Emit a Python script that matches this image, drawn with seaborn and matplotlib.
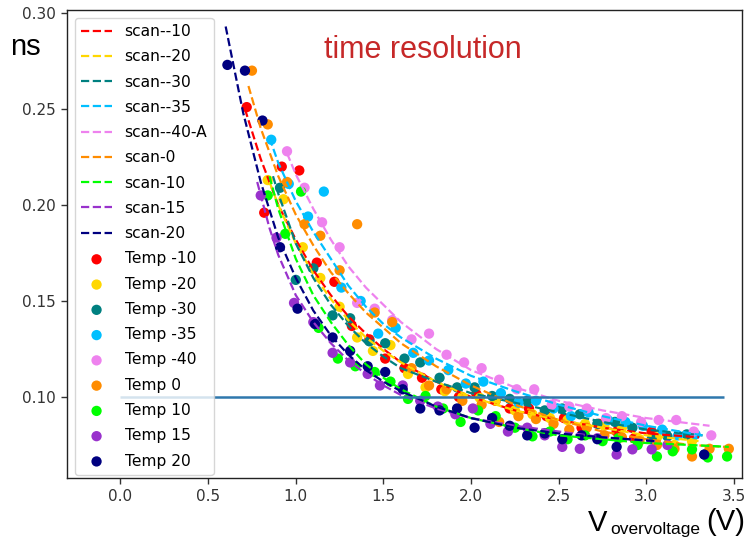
import matplotlib
matplotlib.use("Agg")
import matplotlib.pyplot as plt
import seaborn as sns

# ---------------- data ----------------
scan_names = ["scan--10", "scan--20", "scan--30", "scan--35", "scan--40-A",
              "scan-0", "scan-10", "scan-15", "scan-20"]
temp_names = ["Temp -10", "Temp -20", "Temp -30", "Temp -35", "Temp -40",
              "Temp 0", "Temp 10", "Temp 15", "Temp 20"]
colors = ["red", "gold", "teal", "deepskyblue", "violet",
          "darkorange", "lime", "darkorchid", "navy"]

# fitted curves (dashed)
fit_v_m10 = [0.71, 0.80, 0.90, 1.00, 1.10, 1.20, 1.30, 1.40, 1.50, 1.60, 1.80, 2.00, 2.25, 2.50, 2.75, 3.00, 3.30]
fit_t_m10 = [0.250, 0.224, 0.200, 0.182, 0.166, 0.153, 0.142, 0.133, 0.125, 0.118, 0.108, 0.100, 0.093, 0.088, 0.084, 0.081, 0.079]
fit_v_m20 = [0.85, 0.90, 1.00, 1.10, 1.20, 1.30, 1.40, 1.50, 1.60, 1.80, 2.00, 2.25, 2.50, 2.75, 3.00, 3.30]
fit_t_m20 = [0.212, 0.200, 0.180, 0.164, 0.151, 0.140, 0.131, 0.124, 0.118, 0.108, 0.100, 0.093, 0.088, 0.084, 0.080, 0.077]
fit_v_m30 = [0.87, 0.90, 1.00, 1.10, 1.20, 1.30, 1.40, 1.50, 1.60, 1.80, 2.00, 2.25, 2.50, 2.75, 3.00, 3.32]
fit_t_m30 = [0.215, 0.206, 0.180, 0.162, 0.148, 0.137, 0.128, 0.121, 0.115, 0.108, 0.102, 0.097, 0.092, 0.087, 0.083, 0.080]
fit_v_m35 = [0.85, 0.90, 1.00, 1.10, 1.20, 1.30, 1.40, 1.50, 1.60, 1.80, 2.00, 2.25, 2.50, 2.75, 3.00, 3.32]
fit_t_m35 = [0.235, 0.222, 0.202, 0.186, 0.172, 0.158, 0.147, 0.138, 0.131, 0.120, 0.111, 0.103, 0.096, 0.090, 0.085, 0.080]
fit_v_m40 = [0.95, 1.00, 1.10, 1.20, 1.30, 1.40, 1.50, 1.60, 1.80, 2.00, 2.25, 2.50, 2.75, 3.00, 3.36]
fit_t_m40 = [0.227, 0.216, 0.198, 0.182, 0.168, 0.157, 0.148, 0.139, 0.125, 0.114, 0.105, 0.098, 0.093, 0.089, 0.085]
fit_v_0 = [0.73, 0.80, 0.90, 1.00, 1.10, 1.20, 1.30, 1.40, 1.50, 1.60, 1.80, 2.00, 2.25, 2.50, 2.75, 3.00, 3.25, 3.45]
fit_t_0 = [0.262, 0.240, 0.215, 0.195, 0.179, 0.165, 0.154, 0.144, 0.136, 0.128, 0.116, 0.106, 0.096, 0.088, 0.082, 0.078, 0.075, 0.074]
fit_v_10 = [0.85, 0.90, 1.00, 1.10, 1.20, 1.30, 1.40, 1.50, 1.60, 1.80, 2.00, 2.25, 2.50, 2.75, 3.00, 3.25, 3.47]
fit_t_10 = [0.215, 0.198, 0.172, 0.153, 0.139, 0.127, 0.117, 0.110, 0.104, 0.095, 0.089, 0.084, 0.080, 0.078, 0.076, 0.075, 0.074]
fit_v_15 = [0.78, 0.85, 0.90, 1.00, 1.10, 1.20, 1.30, 1.40, 1.50, 1.60, 1.80, 2.00, 2.25, 2.50, 2.75, 3.05]
fit_t_15 = [0.212, 0.188, 0.174, 0.153, 0.139, 0.128, 0.119, 0.112, 0.106, 0.101, 0.094, 0.089, 0.085, 0.082, 0.079, 0.077]
fit_v_20 = [0.60, 0.70, 0.80, 0.90, 1.00, 1.10, 1.20, 1.30, 1.40, 1.50, 1.60, 1.80, 2.00, 2.25, 2.50, 2.75, 3.05]
fit_t_20 = [0.293, 0.248, 0.212, 0.183, 0.162, 0.145, 0.132, 0.122, 0.114, 0.108, 0.103, 0.095, 0.089, 0.084, 0.081, 0.079, 0.077]

# measured points
v_m10 = [0.72, 0.82, 0.92, 1.02, 1.12, 1.22, 1.32, 1.42, 1.51, 1.62, 1.72, 1.83, 1.93, 2.03, 2.14, 2.22, 2.33, 2.43, 2.53, 2.63, 2.73, 2.83, 2.93, 3.03]
t_m10 = [0.251, 0.196, 0.220, 0.218, 0.170, 0.160, 0.137, 0.130, 0.120, 0.115, 0.110, 0.104, 0.100, 0.1016, 0.098, 0.094, 0.094, 0.090, 0.089, 0.084, 0.086, 0.082, 0.0785, 0.082]
v_m20 = [0.84, 0.93, 1.04, 1.14, 1.25, 1.35, 1.44, 1.54, 1.64, 1.74, 1.85, 1.95, 2.05, 2.14, 2.25, 2.35, 2.45, 2.55, 2.65, 2.76, 2.86, 2.96, 3.06, 3.16, 3.26]
t_m20 = [0.213, 0.203, 0.178, 0.162, 0.147, 0.131, 0.124, 0.127, 0.112, 0.105, 0.103, 0.100, 0.0995, 0.098, 0.093, 0.091, 0.089, 0.088, 0.086, 0.085, 0.084, 0.078, 0.079, 0.075, 0.077]
v_m30 = [0.91, 1.00, 1.10, 1.21, 1.31, 1.42, 1.51, 1.62, 1.71, 1.82, 1.92, 2.02, 2.12, 2.22, 2.32, 2.42, 2.52, 2.62, 2.72, 2.82, 2.92, 3.03, 3.12, 3.23, 3.33]
t_m30 = [0.209, 0.161, 0.167, 0.1425, 0.141, 0.129, 0.128, 0.120, 0.118, 0.110, 0.105, 0.105, 0.1005, 0.099, 0.098, 0.093, 0.094, 0.091, 0.086, 0.087, 0.084, 0.078, 0.0795, 0.0805, 0.070]
v_m35 = [0.86, 0.96, 1.07, 1.16, 1.26, 1.37, 1.47, 1.57, 1.67, 1.76, 1.87, 1.97, 2.07, 2.17, 2.27, 2.37, 2.47, 2.57, 2.67, 2.78, 2.88, 2.98, 3.09, 3.18, 3.28]
t_m35 = [0.234, 0.211, 0.194, 0.207, 0.157, 0.150, 0.133, 0.136, 0.123, 0.119, 0.114, 0.107, 0.108, 0.102, 0.097, 0.098, 0.094, 0.090, 0.092, 0.088, 0.087, 0.085, 0.083, 0.080, 0.0805]
v_m40 = [0.95, 1.05, 1.15, 1.25, 1.35, 1.45, 1.55, 1.66, 1.76, 1.86, 1.96, 2.06, 2.16, 2.26, 2.36, 2.46, 2.56, 2.66, 2.77, 2.86, 2.97, 3.07, 3.17, 3.27, 3.37]
t_m40 = [0.228, 0.209, 0.191, 0.178, 0.149, 0.146, 0.140, 0.130, 0.133, 0.122, 0.118, 0.115, 0.109, 0.104, 0.104, 0.096, 0.095, 0.094, 0.089, 0.090, 0.087, 0.088, 0.088, 0.082, 0.080]
v_0 = [0.75, 0.84, 0.95, 1.05, 1.14, 1.25, 1.35, 1.45, 1.55, 1.66, 1.76, 1.86, 1.95, 2.06, 2.16, 2.27, 2.37, 2.47, 2.56, 2.66, 2.76, 2.86, 2.96, 3.06, 3.16, 3.26, 3.36, 3.47]
t_0 = [0.270, 0.242, 0.212, 0.190, 0.184, 0.166, 0.190, 0.144, 0.139, 0.115, 0.106, 0.104, 0.098, 0.096, 0.087, 0.090, 0.0885, 0.086, 0.083, 0.084, 0.080, 0.079, 0.077, 0.075, 0.073, 0.069, 0.073, 0.073]
v_10 = [0.84, 0.94, 1.03, 1.13, 1.24, 1.34, 1.45, 1.54, 1.64, 1.74, 1.84, 1.94, 2.04, 2.14, 2.25, 2.35, 2.45, 2.55, 2.65, 2.75, 2.84, 2.95, 3.06, 3.15, 3.26, 3.35, 3.46]
t_10 = [0.205, 0.185, 0.207, 0.136, 0.120, 0.116, 0.113, 0.108, 0.099, 0.1005, 0.094, 0.087, 0.093, 0.090, 0.084, 0.0795, 0.082, 0.078, 0.080, 0.077, 0.0785, 0.075, 0.069, 0.0717, 0.0727, 0.0685, 0.069]
v_15 = [0.80, 0.89, 0.99, 1.10, 1.21, 1.31, 1.41, 1.48, 1.61, 1.71, 1.81, 1.91, 2.01, 2.11, 2.21, 2.32, 2.42, 2.52, 2.62, 2.72, 2.83, 2.92, 3.03, 3.12]
t_15 = [0.205, 0.183, 0.149, 0.139, 0.123, 0.118, 0.112, 0.106, 0.106, 0.098, 0.095, 0.091, 0.094, 0.086, 0.082, 0.084, 0.080, 0.074, 0.073, 0.0785, 0.070, 0.0727, 0.0727, 0.075]
v_20 = [0.61, 0.71, 0.81, 0.91, 1.01, 1.11, 1.21, 1.31, 1.41, 1.51, 1.61, 1.71, 1.82, 1.92, 2.02, 2.12, 2.22, 2.32, 2.42, 2.52, 2.63, 2.72, 2.83, 3.33]
t_20 = [0.273, 0.270, 0.244, 0.178, 0.146, 0.138, 0.131, 0.124, 0.116, 0.113, 0.104, 0.094, 0.093, 0.094, 0.084, 0.089, 0.085, 0.080, 0.081, 0.078, 0.080, 0.078, 0.074, 0.070]

hline_value = 0.10
hline_range = [0.0, 3.44]

x_ticks = [0.0, 0.5, 1.0, 1.5, 2.0, 2.5, 3.0, 3.5]
y_ticks = [0.10, 0.15, 0.20, 0.25, 0.30]

fits = [(fit_v_m10, fit_t_m10), (fit_v_m20, fit_t_m20), (fit_v_m30, fit_t_m30),
        (fit_v_m35, fit_t_m35), (fit_v_m40, fit_t_m40), (fit_v_0, fit_t_0),
        (fit_v_10, fit_t_10), (fit_v_15, fit_t_15), (fit_v_20, fit_t_20)]
points = [(v_m10, t_m10), (v_m20, t_m20), (v_m30, t_m30), (v_m35, t_m35),
          (v_m40, t_m40), (v_0, t_0), (v_10, t_10), (v_15, t_15), (v_20, t_20)]

# ---------------- figure ----------------
W, H = 746, 537
fig = plt.figure(figsize=(W / 100, H / 100), dpi=100)
ax = fig.add_axes([0.0898, 0.1099, 0.9048, 0.8715])

for (fv, ft), name, col in zip(fits, scan_names, colors):
    sns.lineplot(x=fv, y=ft, ax=ax, color=col, linestyle="--", linewidth=1.6,
                 label=name, sort=False, legend=False)

ax.hlines(hline_value, hline_range[0], hline_range[1], color="#2f78ad", linewidth=1.8)

for (pv, pt), name, col in zip(points, temp_names, colors):
    sns.scatterplot(x=pv, y=pt, ax=ax, color=col, s=55, edgecolor="none",
                    label=name, legend=False)

ax.set_xlim(-0.305, 3.545)
ax.set_ylim(0.0578, 0.3016)
ax.set_xticks(x_ticks)
ax.set_yticks(y_ticks)
ax.set_xticklabels([f"{v:.1f}" for v in x_ticks])
ax.set_yticklabels([f"{v:.2f}" for v in y_ticks])
ax.tick_params(labelsize=11, colors="#333333", length=4.5, width=1.0)
for sp in ax.spines.values():
    sp.set_color("#222222")
    sp.set_linewidth(1.0)

ax.legend(loc="upper left", fontsize=11.2, framealpha=0.8, scatterpoints=1,
          borderaxespad=0.5, labelspacing=0.66)

fig.text(0.0134, 0.8976, "ns", fontsize=21, family="Liberation Sans",
         ha="left", va="baseline", color="black")
fig.text(0.567, 0.892, "time resolution", fontsize=22, family="Liberation Sans",
         ha="center", va="baseline", color="#c62828")
fig.text(588 / W, (H - 531) / H, "V", fontsize=21, family="Liberation Sans",
         ha="left", va="baseline", color="black")
fig.text(610 / W, (H - 534) / H, "overvoltage", fontsize=12.5, family="Liberation Sans",
         ha="left", va="baseline", color="black")
fig.text(745 / W, (H - 530) / H, "(V)", fontsize=21, family="Liberation Sans",
         ha="right", va="baseline", color="black")

fig.savefig("out.png", dpi=100)
